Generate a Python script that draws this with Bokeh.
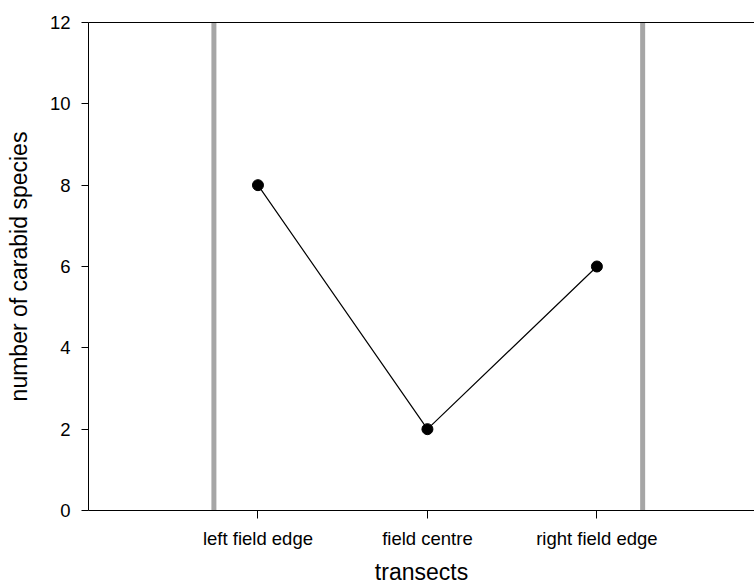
from bokeh.plotting import figure
from bokeh.models import Range1d, FixedTicker, LinearAxis, ColumnDataSource
from bokeh.embed import file_html
from bokeh.resources import INLINE

# Data
categories = ["left field edge", "field centre", "right field edge"]
positions = [1, 2, 3]
species = [8, 2, 6]
edge_lines_x = [0.74, 3.27]   # grey field-edge markers (x position)
y_ticks = [0, 2, 4, 6, 8, 10, 12]

FONT = "Liberation Sans"

p = figure(width=754, height=587, output_backend="svg", toolbar_location=None,
           x_range=Range1d(0, 3.93), y_range=Range1d(0, 12),
           min_border_left=88, min_border_right=0, min_border_top=22, min_border_bottom=77)
p.outline_line_color = None
p.xgrid.visible = False
p.ygrid.visible = False
p.background_fill_color = "white"
p.border_fill_color = "white"

# grey vertical lines
edge_src = ColumnDataSource(dict(x=edge_lines_x, y0=[-0.05] * len(edge_lines_x), y1=[12] * len(edge_lines_x)))
p.segment(x0="x", y0="y0", x1="x", y1="y1", source=edge_src, line_color="#A6A6A6", line_width=5)

src = ColumnDataSource(dict(x=positions, y=species))
p.line("x", "y", source=src, line_color="black", line_width=1.2)
p.scatter("x", "y", source=src, size=11, fill_color="black", line_color="black")

# x axis
xa = p.xaxis[0]
xa.ticker = FixedTicker(ticks=positions)
xa.major_label_overrides = {pos: lab for pos, lab in zip(positions, categories)}
xa.axis_label = "transects"
xa.minor_tick_line_color = None
xa.major_tick_out = 8
xa.major_tick_in = 0
xa.major_label_standoff = 9
xa.axis_label_standoff = 7
xa.major_label_text_font = FONT
xa.major_label_text_font_size = "18.5px"
xa.axis_label_text_font = FONT
xa.axis_label_text_font_size = "23px"
xa.axis_label_text_font_style = "normal"
xa.major_label_text_color = "black"
xa.axis_label_text_color = "black"
xa.axis_line_color = "black"
xa.major_tick_line_color = "black"

# y axis
ya = p.yaxis[0]
ya.ticker = FixedTicker(ticks=y_ticks)
ya.axis_label = "number of carabid species"
ya.minor_tick_line_color = None
ya.major_tick_out = 7
ya.major_tick_in = 0
ya.major_label_standoff = 11
ya.axis_label_standoff = 15
ya.major_label_text_font = FONT
ya.major_label_text_font_size = "18.5px"
ya.axis_label_text_font = FONT
ya.axis_label_text_font_size = "23px"
ya.axis_label_text_font_style = "normal"
ya.major_label_text_color = "black"
ya.axis_label_text_color = "black"
ya.axis_line_color = "black"
ya.major_tick_line_color = "black"

# top border line
top = LinearAxis(ticker=FixedTicker(ticks=[]), major_tick_out=0, major_tick_in=0,
                 minor_tick_out=0, minor_tick_in=0, major_label_standoff=0,
                 axis_line_color="black", major_label_text_font_size="0px")
p.add_layout(top, "above")

open("out.html", "w").write(file_html(p, INLINE))
